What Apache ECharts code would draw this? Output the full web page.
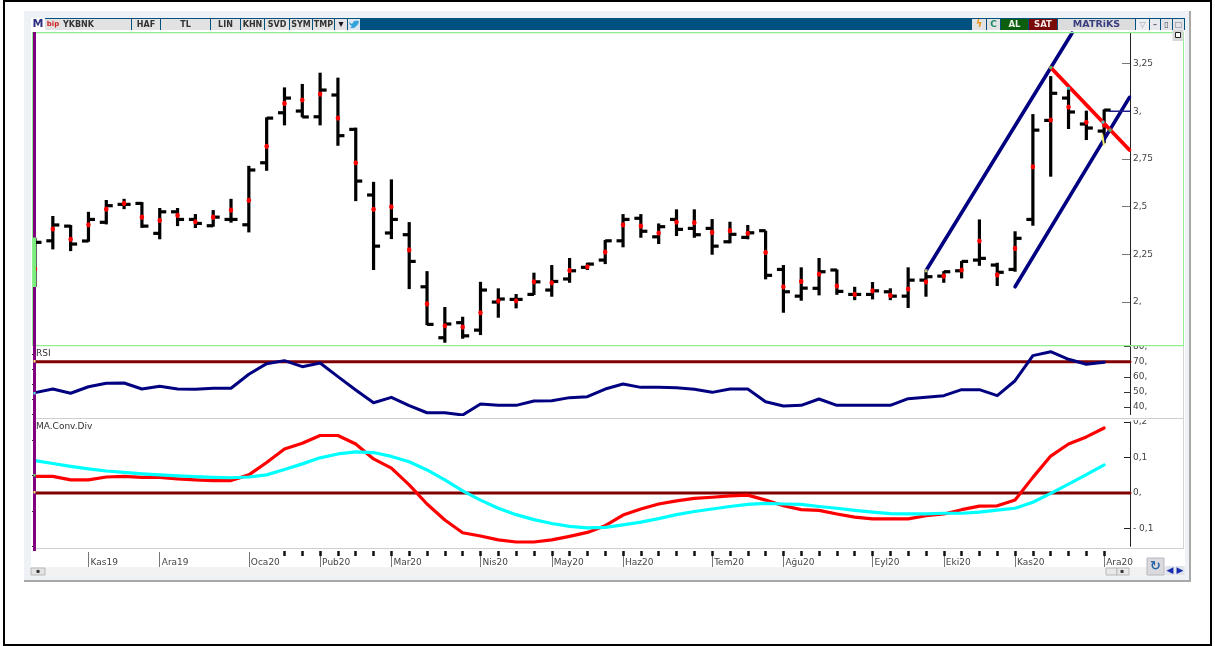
<!DOCTYPE html>
<html>
	<head>
		<meta charset="UTF-8">
		<title>YKBNK</title>
		<script type="text/javascript" src="https://cdn.jsdelivr.net/npm/echarts@6/dist/echarts.min.js"></script>
		<style>
			html, body { margin: 0; padding: 0; background: #fff; }
		</style>
	</head>
	<body>
		<div id="main" style="width: 1215px;height:646px;"></div>
		<script type="text/javascript">
			// haftalik barlar
			var opens = [2.30,2.321,2.398,2.320,2.418,2.512,2.517,2.360,2.473,2.433,2.400,2.433,2.405,2.730,2.992,3.001,2.971,3.085,2.905,2.561,2.362,2.353,2.080,1.813,1.892,1.853,2.000,2.014,2.040,2.063,2.121,2.182,2.220,2.321,2.439,2.342,2.433,2.386,2.386,2.316,2.339,2.374,2.171,2.031,2.072,2.168,2.040,2.040,2.054,2.031,2.115,2.136,2.164,2.220,2.194,2.171,2.433,2.952,3.069,2.933,2.896];
			var highs = [2.337,2.451,2.404,2.473,2.535,2.541,2.524,2.493,2.493,2.461,2.482,2.541,2.714,2.968,3.125,3.143,3.202,3.176,2.914,2.630,2.643,2.419,2.162,1.974,1.923,2.106,2.072,2.042,2.154,2.194,2.231,2.206,2.325,2.461,2.461,2.412,2.486,2.486,2.435,2.421,2.404,2.374,2.194,2.182,2.231,2.171,2.080,2.105,2.072,2.182,2.159,2.162,2.215,2.433,2.206,2.371,2.985,3.184,3.120,3.003,3.010];
			var lows = [2.080,2.276,2.267,2.316,2.407,2.487,2.389,2.329,2.398,2.388,2.395,2.416,2.365,2.688,2.926,2.968,2.926,2.819,2.529,2.168,2.330,2.068,1.879,1.787,1.808,1.827,1.918,1.967,2.037,2.028,2.101,2.168,2.199,2.287,2.337,2.304,2.346,2.337,2.248,2.308,2.329,2.119,1.944,2.007,2.035,2.038,2.010,2.014,2.010,1.969,2.028,2.101,2.124,2.190,2.084,2.159,2.400,2.657,2.907,2.849,2.832];
			var closes = [2.313,2.404,2.304,2.433,2.505,2.512,2.398,2.473,2.433,2.412,2.445,2.433,2.692,2.964,3.069,2.970,3.111,2.872,2.634,2.293,2.433,2.213,1.883,1.885,1.823,2.063,2.016,2.014,2.106,2.108,2.164,2.199,2.321,2.433,2.371,2.395,2.381,2.353,2.293,2.355,2.363,2.140,2.054,2.073,2.159,2.056,2.040,2.059,2.031,2.115,2.133,2.159,2.213,2.229,2.156,2.334,2.901,3.094,2.996,2.912,3.006];
			var mids = [2.173,2.383,2.329,2.405,2.487,2.517,2.445,2.428,2.454,2.421,2.445,2.482,2.533,2.816,3.041,3.059,3.090,2.964,2.730,2.486,2.499,2.273,1.990,1.876,1.869,1.944,2.005,2.007,2.106,2.101,2.166,2.185,2.262,2.405,2.398,2.362,2.419,2.416,2.365,2.374,2.360,2.260,2.080,2.108,2.147,2.084,2.040,2.059,2.035,2.068,2.106,2.136,2.168,2.320,2.142,2.281,2.709,2.954,3.022,2.942,2.928];

			var rsiValues = [49.5,51.9,49.1,53.4,55.7,55.9,51.9,53.7,51.9,51.7,52.4,52.4,61.7,68.7,70.7,66.7,69.1,60.1,51.3,42.8,46.4,40.9,36.2,36.2,34.7,42.0,41.1,41.1,44.0,44.2,46.2,46.8,51.9,55.2,53.0,53.0,52.8,51.7,49.7,51.9,51.9,43.5,40.7,41.1,45.3,41.1,41.1,41.1,41.1,45.5,46.4,47.5,51.5,51.5,47.5,57.4,74.0,76.6,71.6,68.3,69.6];
			var macdValues = [0.047,0.047,0.037,0.037,0.045,0.047,0.044,0.044,0.040,0.037,0.035,0.035,0.051,0.086,0.124,0.140,0.162,0.162,0.138,0.096,0.070,0.023,-0.031,-0.076,-0.112,-0.121,-0.132,-0.138,-0.138,-0.132,-0.122,-0.111,-0.092,-0.062,-0.045,-0.031,-0.022,-0.015,-0.012,-0.008,-0.006,-0.020,-0.036,-0.047,-0.049,-0.059,-0.068,-0.073,-0.073,-0.073,-0.064,-0.059,-0.047,-0.037,-0.036,-0.020,0.044,0.104,0.138,0.158,0.183];
			var signalValues = [0.091,0.083,0.075,0.068,0.062,0.058,0.054,0.051,0.048,0.046,0.044,0.043,0.045,0.051,0.066,0.082,0.099,0.110,0.116,0.114,0.103,0.088,0.065,0.037,0.006,-0.020,-0.043,-0.061,-0.075,-0.086,-0.094,-0.098,-0.097,-0.090,-0.082,-0.072,-0.061,-0.052,-0.045,-0.038,-0.032,-0.029,-0.031,-0.032,-0.038,-0.043,-0.049,-0.054,-0.058,-0.059,-0.059,-0.057,-0.057,-0.054,-0.048,-0.043,-0.026,-0.001,0.025,0.052,0.079];

			// trend cizgileri: [bar sirasi, fiyat]
			var channelUpper = [[50, 2.164], [58.2, 3.41]];
			var channelLower = [[55, 2.080], [61.42, 3.073]];
			var resistance = [[57, 3.229], [61.42, 2.797]];
			var lastPriceLine = [[60.3, 3.0], [61.45, 3.0]];
			var yellowMark = [[59.9, 2.875], [59.98, 2.825]];
			var anchorPoints = [[57, 3.229, '#22dd77'], [60.33, 2.901, '#22dd77'], [58, 3.12, '#22dddd'], [59.93, 2.943, '#33eeee'], [50, 2.164, '#f5f06a']];

			var monthIndex = [3,7,12,16,20,25,29,33,38,42,47,51,55,60];
			var monthLabels = ['Kas19','Ara19','Oca20','Pub20','Mar20','Nis20','May20','Haz20','Tem20','Ağu20','Eyl20','Eki20','Kas20','Ara20'];
			var priceTicks = [2,2.25,2.5,2.75,3,3.25];
			var priceTickLabels = ['2,','2,25','2,5','2,75','3,','3,25'];
			var priceMinorTicks = [1.875,2.125,2.375,2.625,2.875,3.125,3.375];
			var rsiTicks = [40,50,60,70,80];
			var rsiTickLabels = ['40,','50,','60,','70,','80,'];
			var rsiMinorTicks = [35,45,55,65,75];
			var macdTicks = [-0.1,0,0.1,0.2];
			var macdTickLabels = ['- 0,1','0,','0,1','0,2'];
			var macdMinorTicks = [-0.15,-0.05,0.05,0.15];

			var xMax = 61.45;
			var font = 'DejaVu Sans';

			var weekTicks = [];
			for (var w = 14; w <= 60; w++) {
				weekTicks.push(w);
			}

			function lookup(ticks, labels) {
				return function (value) {
					for (var i = 0; i < ticks.length; i++) {
						if (Math.abs(ticks[i] - value) < 1e-6) {
							return labels[i];
						}
					}
					return '';
				};
			}

			function rect(x, y, w, h, fill, z, stroke) {
				return {
					type: 'rect', silent: true, z: z === undefined ? -5 : z,
					shape: { x: x, y: y, width: w, height: h },
					style: { fill: fill, stroke: stroke || null, lineWidth: stroke ? 1 : 0 }
				};
			}
			function text(x, y, str, color, size, weight, align, z) {
				return {
					type: 'text', silent: true, z: z === undefined ? 60 : z, x: x, y: y,
					style: {
						text: str, fill: color, align: align || 'center', verticalAlign: 'middle',
						font: (weight || 'normal') + ' ' + (size || 9) + 'px "' + font + '"'
					}
				};
			}
			function button(x, w, str, color, fill, weight, size) {
				return [rect(x, 19, w, 11, fill || '#e2e2e2', 50), text(x + w / 2, 24.5, str, color || '#333', size || 8, weight || 'bold')];
			}

			var chrome = [
				rect(0, 0, 1215, 646, '#ffffff', -20),
				rect(24, 11, 1166, 570, '#eef1f6', -19),
				rect(1189, 11, 2, 571, '#a8a8a8', -19),
				rect(24, 580, 1167, 2, '#a8a8a8', -19),
				rect(31, 18, 1154, 549, '#ffffff', -18),
				rect(31, 567, 1154, 9, '#f2f2f2', -18),
				// dis cerceve
				rect(3, 0, 1209, 2, '#000000', 70),
				rect(3, 0, 2, 646, '#000000', 70),
				rect(1210, 0, 2, 646, '#000000', 70),
				rect(3, 644, 1209, 2, '#000000', 70),
				// baslik seridi
				rect(31, 18, 1154, 12, '#00517f', 49),
				rect(31, 18, 14, 12, '#ffffff', 50),
				text(38, 24.5, 'M', '#2b2f7f', 11, 'bold'),
				rect(45, 19, 17, 11, '#e2e2e2', 50),
				text(53, 24.5, 'bip', '#d02020', 7, 'bold'),
				rect(62, 19, 69, 11, '#e2e2e2', 50),
				text(63, 24.5, 'YKBNK', '#333333', 8, 'bold', 'left'),
				rect(348, 19, 12, 11, '#dde6ee', 50),
				{
					type: 'polygon', silent: true, z: 55,
					shape: { points: [[349, 22], [352, 24], [354, 21], [358, 20.5], [359, 22], [357.5, 25], [354, 28], [350, 28], [352, 26], [350, 25]] },
					style: { fill: '#33a3dc' }
				}
			];
			chrome = chrome.concat(
				button(132, 28, 'HAF'), button(161, 49, 'TL'), button(211, 29, 'LIN'),
				button(241, 23, 'KHN'), button(265, 24, 'SVD'), button(290, 22, 'SYM'),
				button(313, 21, 'TMP'), button(335, 12, '\u25BE', '#111122', null, 'bold', 10),
				button(972, 14, '\u03DF', '#e8961e', null, 'bold', 10), button(987, 13, 'C', '#1b8a6b', null, 'bold', 9),
				button(1001, 27, 'AL', '#e8f0e8', '#0b5e0b', 'bold', 8.5), button(1029, 28, 'SAT', '#f3e6e6', '#7a0a0a', 'bold', 8.5),
				button(1058, 77, 'MATRiKS', '#3a3f80', '#dcdcdc', 'bold', 9.5),
				button(1136, 13, '\u25BD', '#9aa0b0', '#eceef2'), button(1150, 10, '\u2013', '#667', '#e8eaee'),
				button(1161, 11, '\u25AF', '#445', '#e2e4e8'), button(1173, 11, '\u25A1', '#778', '#e2e4e8')
			);
			chrome = chrome.concat([
				rect(1172.5, 30, 11, 11, '#d8d8d8', 50),
				rect(1175.5, 32.5, 5, 5, '#ffffff', 51, '#222222'),
				// yesil fiyat cercevesi
				rect(33, 32, 1150.5, 1.2, '#90ee90', 40),
				rect(33, 345, 1150.5, 1.2, '#90ee90', 40),
				rect(1183, 32, 1, 314, '#90ee90', 40),
				rect(32, 32, 1, 314, '#90ee90', 40),
				rect(1183, 346, 1, 203, '#d4d4d4', 40),
				// sol mor serit
				rect(33, 32, 3, 519, '#800080', 45),
				rect(33, 237.5, 3, 49.5, '#7cf07c', 46),
				rect(33.5, 360, 2, 2.5, '#f5f06a', 47),
				rect(33.5, 392, 2, 2.5, '#55e8e8', 47),
				rect(33.5, 474, 2, 2.5, '#66dd66', 47),
				rect(33.5, 491, 2, 2.5, '#f5f06a', 47),
				// ayiricilar
				rect(33, 418, 1150, 1, '#cfcfcf', 40),
				rect(33, 548, 1150, 1, '#cfcfcf', 40),
				// kesilen etiketleri ortup ustten ayirici
				rect(1131, 340, 51.5, 5, '#ffffff', 39),
				rect(1131, 414.5, 51.5, 5.5, '#ffffff', 39),
				text(36, 354, 'RSI', '#333333', 9, 'normal', 'left'),
				text(36, 427, 'MA.Conv.Div', '#333333', 9, 'normal', 'left'),
				// alt kaydirma
				rect(31, 568, 14, 7, '#e4e4e4', 50, '#b8b8b8'),
				text(38, 571, '\u25AA', '#333333', 6),
				rect(1106, 568, 11, 7, '#e8e8e8', 50, '#b8b8b8'),
				rect(1117, 568, 12, 7, '#e8e8e8', 50, '#b8b8b8'),
				text(1122, 571, '\u25AA', '#333333', 6),
				rect(1147, 558, 17, 17, '#d9d9de', 50, '#b8b8c0'),
				text(1155.5, 566.5, '\u21BB', '#2a63a8', 13, 'bold'),
				rect(1165.5, 566, 9, 9, '#dfe3ea', 50),
				text(1170, 570.5, '\u25C0', '#1a2fb0', 9),
				rect(1175.5, 566, 9, 9, '#dfe3ea', 50),
				text(1180, 570.5, '\u25B6', '#1a2fb0', 9)
			]);

			function renderBar(params, api) {
				var i = api.value(0);
				var top = api.coord([i, api.value(2)]);
				var bottom = api.coord([i, api.value(3)]);
				var open = api.coord([i, api.value(1)]);
				var close = api.coord([i, api.value(4)]);
				var mid = api.coord([i, api.value(5)]);
				var style = { stroke: '#000000', lineWidth: 3.2, fill: null };
				return {
					type: 'group',
					children: [
						{ type: 'line', shape: { x1: top[0], y1: top[1], x2: bottom[0], y2: bottom[1] }, style: style },
						{ type: 'line', shape: { x1: open[0] - 6.5, y1: open[1], x2: open[0], y2: open[1] }, style: style },
						{ type: 'line', shape: { x1: close[0], y1: close[1], x2: close[0] + 6.5, y2: close[1] }, style: style },
						{ type: 'ellipse', shape: { cx: mid[0], cy: mid[1], rx: 2.2, ry: 2.6 }, style: { fill: '#ff0000' } }
					]
				};
			}

			var barData = [];
			for (var b = 0; b < opens.length; b++) {
				barData.push([b, opens[b], highs[b], lows[b], closes[b], mids[b]]);
			}
			function indexed(values) {
				var out = [];
				for (var k = 0; k < values.length; k++) {
					out.push([k, values[k]]);
				}
				return out;
			}

			function hiddenX(gridIndex) {
				return { type: 'value', gridIndex: gridIndex, min: 0, max: xMax, show: false };
			}
			function rightAxis(gridIndex, min, max, ticks, labels, length, tickColor) {
				return {
					type: 'value', gridIndex: gridIndex, position: 'right', min: min, max: max,
					splitLine: { show: false },
					axisLine: { show: true, onZero: false, lineStyle: { color: '#222222', width: 1 } },
					axisTick: { show: true, inside: true, length: length, customValues: ticks, lineStyle: { color: tickColor, width: 1 } },
					axisLabel: {
						show: true, customValues: ticks, margin: 3, color: '#444444', fontSize: 9, fontFamily: font,
						showMinLabel: true, showMaxLabel: true, hideOverlap: false,
						formatter: lookup(ticks, labels)
					}
				};
			}
			function minorAxis(gridIndex, min, max, ticks) {
				return {
					type: 'value', gridIndex: gridIndex, position: 'right', min: min, max: max,
					splitLine: { show: false },
					axisLine: { show: false },
					axisLabel: { show: false },
					axisTick: { show: true, inside: true, length: 3, customValues: ticks, lineStyle: { color: '#333333', width: 1 } }
				};
			}
			function line(name, data, color, width, xi, yi, z) {
				return {
					name: name, type: 'line', xAxisIndex: xi, yAxisIndex: yi, data: data,
					showSymbol: false, smooth: false, clip: true, z: z || 5, silent: true,
					lineStyle: { color: color, width: width, cap: 'round', join: 'round' }
				};
			}

			var myChart = echarts.init(document.getElementById('main'), null, { renderer: 'canvas' });

			myChart.setOption({
				animation: false,
				backgroundColor: '#ffffff',
				graphic: { elements: chrome },
				grid: [
					{ left: 35, width: 1095, top: 33, height: 312 },
					{ left: 35, width: 1095, top: 346.6, height: 67.95 },
					{ left: 35, width: 1095, top: 422, height: 124.25 }
				],
				xAxis: [
					hiddenX(0),
					hiddenX(1),
					{
						type: 'value', gridIndex: 2, min: 0, max: xMax, position: 'bottom', offset: 5.75,
						splitLine: { show: false },
						axisLine: { show: false, onZero: false },
						axisTick: { show: true, customValues: monthIndex, length: 15, lineStyle: { color: '#777777', width: 1 } },
						axisLabel: {
							show: true, customValues: monthIndex, margin: 6, align: 'left', padding: [0, 0, 0, 2],
							color: '#444444', fontSize: 9, fontFamily: font, hideOverlap: false,
							formatter: lookup(monthIndex, monthLabels)
						}
					},
					{
						type: 'value', gridIndex: 2, min: 0, max: xMax, position: 'bottom', offset: 4.75,
						splitLine: { show: false },
						axisLine: { show: false, onZero: false },
						axisLabel: { show: false },
						axisTick: { show: true, customValues: weekTicks, length: 5, lineStyle: { color: '#111111', width: 2.5 } }
					}
				],
				yAxis: [
					rightAxis(0, 1.775, 3.41, priceTicks, priceTickLabels, 8, '#777777'),
					minorAxis(0, 1.775, 3.41, priceMinorTicks),
					rightAxis(1, 35, 80, rsiTicks, rsiTickLabels, 6, '#333333'),
					minorAxis(1, 35, 80, rsiMinorTicks),
					rightAxis(2, -0.15, 0.2, macdTicks, macdTickLabels, 6, '#222222'),
					minorAxis(2, -0.15, 0.2, macdMinorTicks)
				],
				series: [
					{
						name: 'YKBNK', type: 'custom', xAxisIndex: 0, yAxisIndex: 0, clip: true, z: 4, silent: true,
						renderItem: renderBar, data: barData,
						encode: { x: 0, y: [1, 2, 3, 4] }
					},
					line('Kanal Ust', channelUpper, '#000080', 3.6, 0, 0, 6),
					line('Kanal Alt', channelLower, '#000080', 3.6, 0, 0, 6),
					line('Direnc', resistance, '#ff0000', 3.8, 0, 0, 7),
					line('Son Fiyat', lastPriceLine, '#1d1d8a', 1.5, 0, 0, 6),
					line('Isaret', yellowMark, '#f5f06a', 2, 0, 0, 8),
					{
						name: 'Noktalar', type: 'scatter', xAxisIndex: 0, yAxisIndex: 0, symbol: 'rect', symbolSize: 3, z: 8, silent: true,
						data: anchorPoints,
						itemStyle: { color: function (p) { return p.data[2]; } }
					},
					line('RSI 70', [[0, 70], [xMax, 70]], '#800000', 3, 1, 2, 4),
					line('RSI', indexed(rsiValues), '#000080', 3, 1, 2, 5),
					line('MACD 0', [[0, 0], [xMax, 0]], '#800000', 3, 2, 4, 4),
					line('MACD', indexed(macdValues), '#ff0000', 3.2, 2, 4, 5),
					line('Sinyal', indexed(signalValues), '#00ffff', 3.2, 2, 4, 6)
				]
			});
		</script>
	</body>
</html>
